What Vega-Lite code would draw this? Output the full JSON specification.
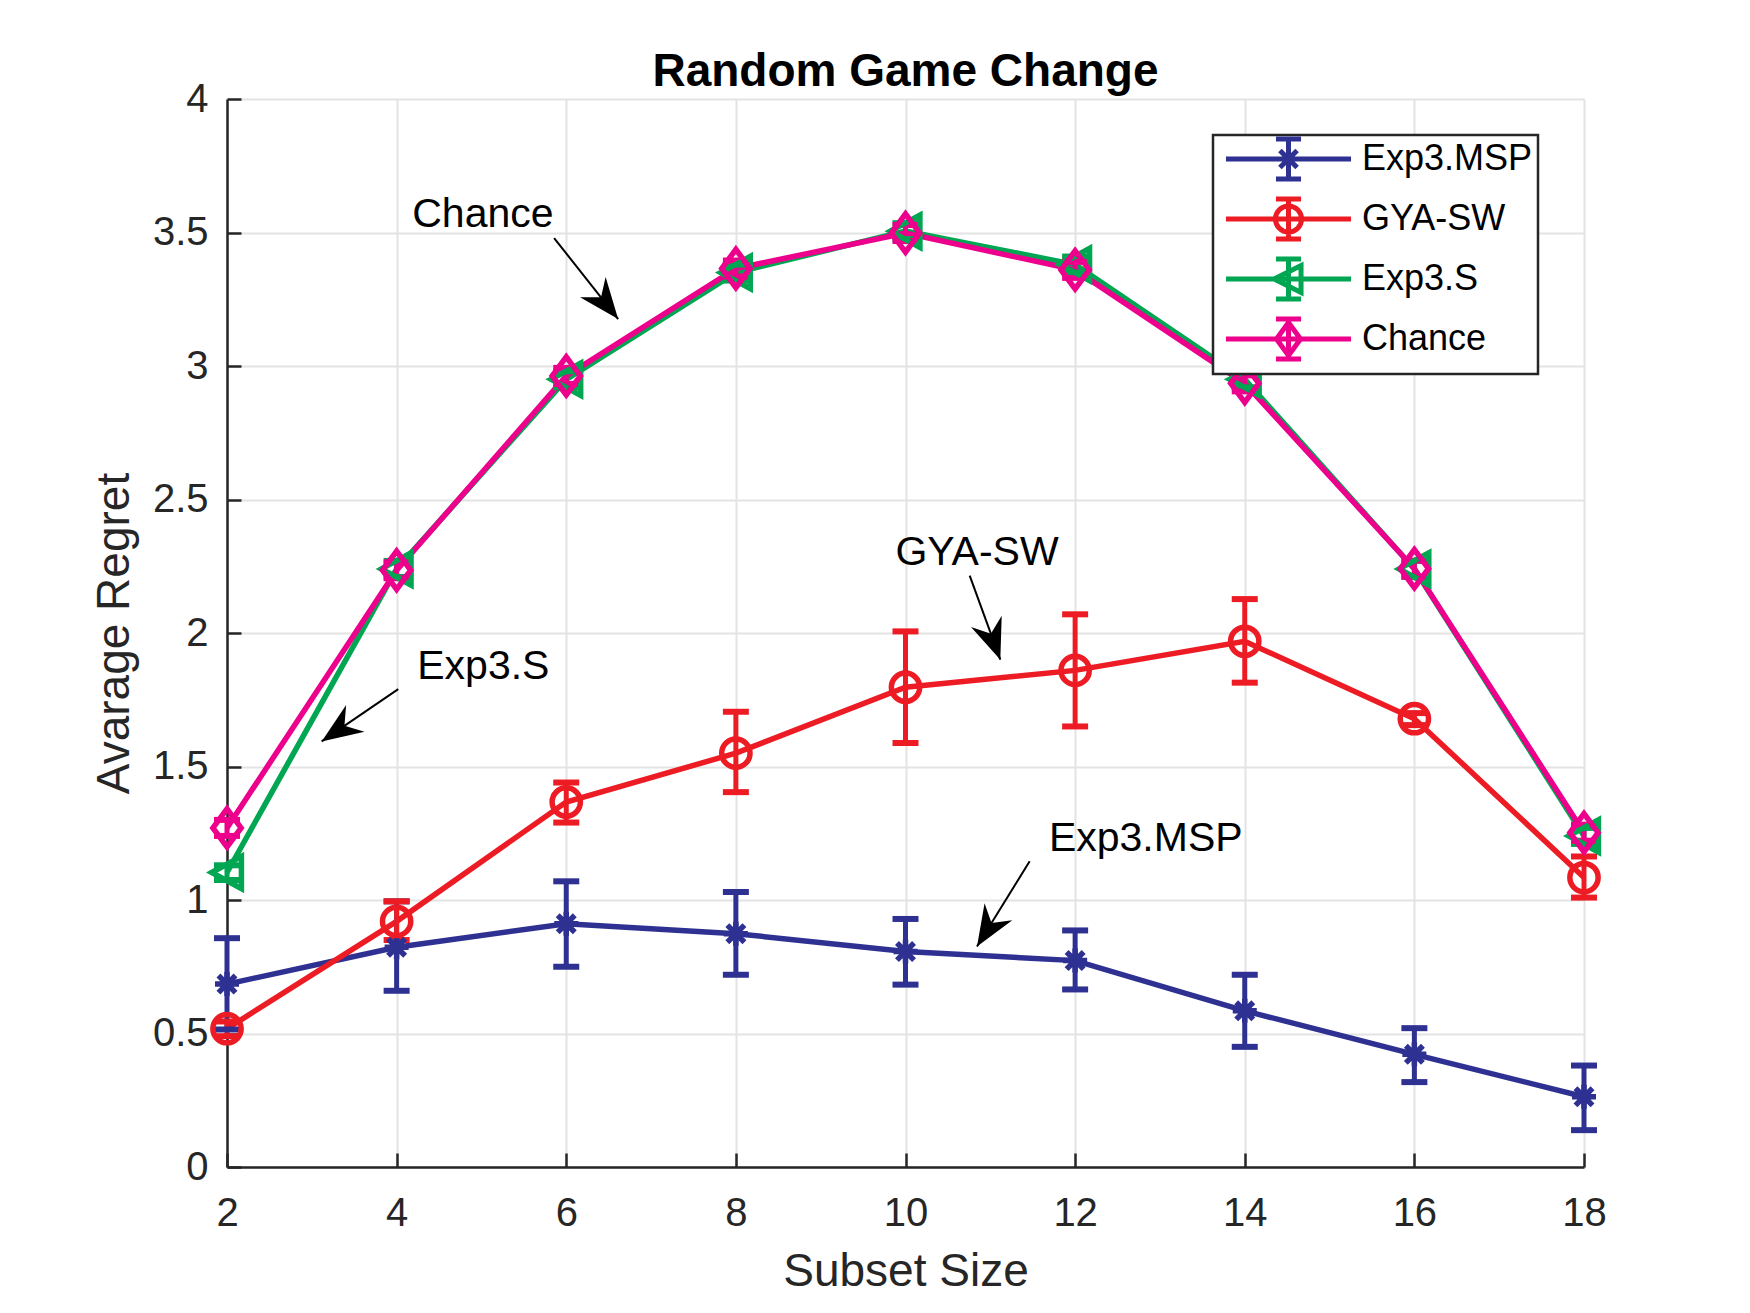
{
  "$schema": "https://vega.github.io/schema/vega-lite/v6.json",
  "autosize": {"type": "none"},
  "padding": {"left": 227, "top": 99, "right": 166, "bottom": 146},
  "width": 1357,
  "height": 1068,
  "background": "white",
  "title": {
    "text": "Random Game Change",
    "font": "Liberation Sans",
    "fontSize": 46,
    "fontWeight": "bold",
    "color": "black",
    "anchor": "middle",
    "frame": "group",
    "baseline": "alphabetic",
    "offset": -53
  },
  "datasets": {
    "series": [
      {"series": "Exp3.MSP", "x": 2, "y": 0.685, "lo": 0.515, "hi": 0.857},
      {"series": "Exp3.MSP", "x": 4, "y": 0.823, "lo": 0.66, "hi": 0.995},
      {"series": "Exp3.MSP", "x": 6, "y": 0.911, "lo": 0.75, "hi": 1.07},
      {"series": "Exp3.MSP", "x": 8, "y": 0.874, "lo": 0.72, "hi": 1.03},
      {"series": "Exp3.MSP", "x": 10, "y": 0.807, "lo": 0.683, "hi": 0.929},
      {"series": "Exp3.MSP", "x": 12, "y": 0.773, "lo": 0.665, "hi": 0.886},
      {"series": "Exp3.MSP", "x": 14, "y": 0.585, "lo": 0.45, "hi": 0.72},
      {"series": "Exp3.MSP", "x": 16, "y": 0.422, "lo": 0.318, "hi": 0.52},
      {"series": "Exp3.MSP", "x": 18, "y": 0.263, "lo": 0.138, "hi": 0.38},
      {"series": "GYA-SW", "x": 2, "y": 0.518, "lo": 0.49, "hi": 0.545},
      {"series": "GYA-SW", "x": 4, "y": 0.92, "lo": 0.85, "hi": 0.995},
      {"series": "GYA-SW", "x": 6, "y": 1.367, "lo": 1.29, "hi": 1.44},
      {"series": "GYA-SW", "x": 8, "y": 1.55, "lo": 1.404, "hi": 1.705},
      {"series": "GYA-SW", "x": 10, "y": 1.797, "lo": 1.588, "hi": 2.006},
      {"series": "GYA-SW", "x": 12, "y": 1.86, "lo": 1.65, "hi": 2.07},
      {"series": "GYA-SW", "x": 14, "y": 1.969, "lo": 1.814, "hi": 2.127},
      {"series": "GYA-SW", "x": 16, "y": 1.679, "lo": 1.655, "hi": 1.7},
      {"series": "GYA-SW", "x": 18, "y": 1.084, "lo": 1.009, "hi": 1.163},
      {"series": "Exp3.S", "x": 2, "y": 1.103, "lo": 1.075, "hi": 1.13},
      {"series": "Exp3.S", "x": 4, "y": 2.24, "lo": 2.21, "hi": 2.27},
      {"series": "Exp3.S", "x": 6, "y": 2.95, "lo": 2.92, "hi": 2.98},
      {"series": "Exp3.S", "x": 8, "y": 3.35, "lo": 3.32, "hi": 3.38},
      {"series": "Exp3.S", "x": 10, "y": 3.505, "lo": 3.475, "hi": 3.535},
      {"series": "Exp3.S", "x": 12, "y": 3.38, "lo": 3.35, "hi": 3.41},
      {"series": "Exp3.S", "x": 14, "y": 2.95, "lo": 2.92, "hi": 2.98},
      {"series": "Exp3.S", "x": 16, "y": 2.24, "lo": 2.21, "hi": 2.27},
      {"series": "Exp3.S", "x": 18, "y": 1.24, "lo": 1.21, "hi": 1.27},
      {"series": "Chance", "x": 2, "y": 1.27, "lo": 1.24, "hi": 1.3},
      {"series": "Chance", "x": 4, "y": 2.235, "lo": 2.205, "hi": 2.265},
      {"series": "Chance", "x": 6, "y": 2.963, "lo": 2.933, "hi": 2.993},
      {"series": "Chance", "x": 8, "y": 3.365, "lo": 3.335, "hi": 3.395},
      {"series": "Chance", "x": 10, "y": 3.498, "lo": 3.468, "hi": 3.528},
      {"series": "Chance", "x": 12, "y": 3.36, "lo": 3.33, "hi": 3.39},
      {"series": "Chance", "x": 14, "y": 2.935, "lo": 2.905, "hi": 2.965},
      {"series": "Chance", "x": 16, "y": 2.241, "lo": 2.211, "hi": 2.271},
      {"series": "Chance", "x": 18, "y": 1.252, "lo": 1.222, "hi": 1.282}
    ],
    "notes": [
      {"label": "Chance", "tx": 4.184, "ty": 3.519, "x1": 5.857, "y1": 3.479, "x2": 6.612, "y2": 3.176},
      {"label": "GYA-SW", "tx": 9.881, "ty": 2.256, "x1": 10.757, "y1": 2.215, "x2": 11.118, "y2": 1.9},
      {"label": "Exp3.S", "tx": 4.243, "ty": 1.829, "x1": 4.019, "y1": 1.79, "x2": 3.116, "y2": 1.594},
      {"label": "Exp3.MSP", "tx": 11.691, "ty": 1.182, "x1": 11.464, "y1": 1.145, "x2": 10.843, "y2": 0.826}
    ]
  },
  "layer": [
    {
      "data": {"name": "series"},
      "mark": {"type": "line", "strokeWidth": 5.5},
      "encoding": {
        "x": {
          "field": "x", "type": "quantitative",
          "scale": {"domain": [2, 18], "nice": false, "zero": false},
          "axis": {
            "title": "Subset Size",
            "values": [2, 4, 6, 8, 10, 12, 14, 16, 18],
            "format": "d",
            "labelPadding": 40,
            "titlePadding": 16,
            "labelFlush": false,
            "labelOverlap": false
          }
        },
        "y": {
          "field": "y", "type": "quantitative",
          "scale": {"domain": [0, 4], "nice": false, "zero": false},
          "axis": {
            "title": "Avarage Regret",
            "values": [0, 0.5, 1, 1.5, 2, 2.5, 3, 3.5, 4],
            "format": "~g",
            "labelPadding": 33,
            "titlePadding": 14,
            "labelFlush": false,
            "labelOverlap": false
          }
        },
        "stroke": {
          "field": "series", "type": "nominal", "legend": null,
          "scale": {
            "domain": ["Chance", "Exp3.S", "GYA-SW", "Exp3.MSP"],
            "range": ["#EC008C", "#00A651", "#ED1C24", "#2E3192"]
          }
        },
        "order": {"field": "x", "type": "quantitative"}
      }
    },
    {
      "data": {"name": "series"},
      "mark": {"type": "rule", "strokeWidth": 5},
      "encoding": {
        "x": {"field": "x", "type": "quantitative", "scale": {"domain": [2, 18]}},
        "y": {"field": "lo", "type": "quantitative", "scale": {"domain": [0, 4]}},
        "y2": {"field": "hi"},
        "stroke": {"field": "series", "type": "nominal", "legend": null}
      }
    },
    {
      "data": {"name": "series"},
      "mark": {"type": "tick", "orient": "horizontal", "size": 26, "thickness": 6, "opacity": 1},
      "encoding": {
        "x": {"field": "x", "type": "quantitative", "scale": {"domain": [2, 18]}},
        "y": {"field": "lo", "type": "quantitative", "scale": {"domain": [0, 4]}},
        "fill": {
          "field": "series", "type": "nominal", "legend": null,
          "scale": {
            "domain": ["Chance", "Exp3.S", "GYA-SW", "Exp3.MSP"],
            "range": ["#EC008C", "#00A651", "#ED1C24", "#2E3192"]
          }
        }
      }
    },
    {
      "data": {"name": "series"},
      "mark": {"type": "tick", "orient": "horizontal", "size": 26, "thickness": 6, "opacity": 1},
      "encoding": {
        "x": {"field": "x", "type": "quantitative", "scale": {"domain": [2, 18]}},
        "y": {"field": "hi", "type": "quantitative", "scale": {"domain": [0, 4]}},
        "fill": {"field": "series", "type": "nominal", "legend": null}
      }
    },
    {
      "data": {"name": "series"},
      "transform": [{"filter": "datum.series == 'Exp3.MSP'"}],
      "mark": {
        "type": "point", "filled": false, "opacity": 1, "strokeWidth": 5.5, "size": 900,
        "shape": "M0,-0.8V0.8M-0.8,0H0.8M-0.57,-0.57L0.57,0.57M-0.57,0.57L0.57,-0.57"
      },
      "encoding": {
        "x": {"field": "x", "type": "quantitative", "scale": {"domain": [2, 18]}},
        "y": {"field": "y", "type": "quantitative", "scale": {"domain": [0, 4]}},
        "stroke": {"field": "series", "type": "nominal", "legend": null}
      }
    },
    {
      "data": {"name": "series"},
      "transform": [{"filter": "datum.series == 'GYA-SW'"}],
      "mark": {"type": "point", "filled": false, "opacity": 1, "strokeWidth": 5.5, "size": 800, "shape": "circle"},
      "encoding": {
        "x": {"field": "x", "type": "quantitative", "scale": {"domain": [2, 18]}},
        "y": {"field": "y", "type": "quantitative", "scale": {"domain": [0, 4]}},
        "stroke": {"field": "series", "type": "nominal", "legend": null}
      }
    },
    {
      "data": {"name": "series"},
      "transform": [{"filter": "datum.series == 'Exp3.S'"}],
      "mark": {"type": "point", "filled": false, "opacity": 1, "strokeWidth": 5.5, "size": 1150, "shape": "M-0.9,0L0.85,-0.95L0.85,0.95Z"},
      "encoding": {
        "x": {"field": "x", "type": "quantitative", "scale": {"domain": [2, 18]}},
        "y": {"field": "y", "type": "quantitative", "scale": {"domain": [0, 4]}},
        "stroke": {"field": "series", "type": "nominal", "legend": null}
      }
    },
    {
      "data": {"name": "series"},
      "transform": [{"filter": "datum.series == 'Chance'"}],
      "mark": {"type": "point", "filled": false, "opacity": 1, "strokeWidth": 5.5, "size": 1100, "shape": "M0,-1.15L0.85,0L0,1.15L-0.85,0Z"},
      "encoding": {
        "x": {"field": "x", "type": "quantitative", "scale": {"domain": [2, 18]}},
        "y": {"field": "y", "type": "quantitative", "scale": {"domain": [0, 4]}},
        "stroke": {"field": "series", "type": "nominal", "legend": null}
      }
    },
    {
      "data": {"name": "series"},
      "transform": [{"filter": "datum.x < 0"}],
      "mark": {"type": "point", "filled": false, "opacity": 1, "strokeWidth": 5},
      "encoding": {
        "x": {"field": "x", "type": "quantitative", "scale": {"domain": [2, 18]}},
        "y": {"field": "y", "type": "quantitative", "scale": {"domain": [0, 4]}},
        "color": {
          "field": "series", "type": "nominal",
          "scale": {
            "domain": ["Exp3.MSP", "GYA-SW", "Exp3.S", "Chance"],
            "range": ["#2E3192", "#ED1C24", "#00A651", "#EC008C"]
          },
          "legend": {
            "title": null,
            "orient": "none",
            "legendX": 986,
            "legendY": 36,
            "padding": 5,
            "fillColor": "white",
            "strokeColor": "#262626",
            "rowPadding": 0,
            "symbolSize": 1089,
            "symbolStrokeWidth": 5,
            "symbolOffset": 51.5,
            "symbolOpacity": 1,
            "symbolFillColor": "transparent",
            "labelOffset": 54.5,
            "labelFont": "Liberation Sans",
            "labelFontSize": 36,
            "labelColor": "black",
            "labelLimit": 400,
            "labelExpr": "datum.label + ' '"
          }
        },
        "shape": {
          "field": "series", "type": "nominal",
          "scale": {
            "domain": ["Exp3.MSP", "GYA-SW", "Exp3.S", "Chance"],
            "range": [
              "M-3.79,0H3.79M0,-1.21V1.21M-0.76,-1.21H0.76M-0.76,1.21H0.76M0,-0.73V0.73M-0.73,0H0.73M-0.52,-0.52L0.52,0.52M-0.52,0.52L0.52,-0.52",
              "M-3.79,0H3.79M0,-1.21V1.21M-0.76,-1.21H0.76M-0.76,1.21H0.76M-0.79,0A0.79,0.79 0 1,1 0.79,0A0.79,0.79 0 1,1 -0.79,0Z",
              "M-3.79,0H3.79M0,-1.21V1.21M-0.76,-1.21H0.76M-0.76,1.21H0.76M-0.87,0L0.76,-0.82L0.76,0.82Z",
              "M-3.79,0H3.79M0,-1.21V1.21M-0.76,-1.21H0.76M-0.76,1.21H0.76M0,-1L0.73,0L0,1L-0.73,0Z"
            ]
          },
          "legend": {
            "title": null,
            "orient": "none",
            "legendX": 986,
            "legendY": 36
          }
        }
      }
    },
    {
      "data": {"name": "notes"},
      "mark": {"type": "rule", "strokeWidth": 2, "color": "black"},
      "encoding": {
        "x": {"field": "x1", "type": "quantitative", "scale": {"domain": [2, 18]}},
        "y": {"field": "y1", "type": "quantitative", "scale": {"domain": [0, 4]}},
        "x2": {"field": "x2"},
        "y2": {"field": "y2"}
      }
    },
    {
      "data": {"name": "notes"},
      "transform": [
        {"calculate": "atan2((datum.x2 - datum.x1) * 84.81, (datum.y2 - datum.y1) * 267) * 180 / PI", "as": "ang"}
      ],
      "mark": {
        "type": "point", "filled": true, "opacity": 1, "color": "black", "strokeWidth": 0, "size": 2304,
        "shape": "M0,0L0.68,1.7L0,1.15L-0.68,1.7Z"
      },
      "encoding": {
        "x": {"field": "x2", "type": "quantitative", "scale": {"domain": [2, 18]}},
        "y": {"field": "y2", "type": "quantitative", "scale": {"domain": [0, 4]}},
        "angle": {"field": "ang", "type": "quantitative", "scale": null}
      }
    },
    {
      "data": {"name": "notes"},
      "mark": {
        "type": "text", "align": "left", "baseline": "alphabetic",
        "font": "Liberation Sans", "fontSize": 41, "color": "black"
      },
      "encoding": {
        "x": {"field": "tx", "type": "quantitative", "scale": {"domain": [2, 18]}},
        "y": {"field": "ty", "type": "quantitative", "scale": {"domain": [0, 4]}},
        "text": {"field": "label"}
      }
    }
  ],
  "config": {
    "view": {"stroke": null},
    "legend": {"strokeWidth": 2.5},
    "axis": {
      "domainColor": "#262626",
      "domainWidth": 2.5,
      "tickColor": "#262626",
      "tickWidth": 2.5,
      "tickSize": -14,
      "gridColor": "#e3e3e3",
      "gridWidth": 2,
      "gridOpacity": 1,
      "labelFont": "Liberation Sans",
      "labelFontSize": 40,
      "labelColor": "#262626",
      "titleFont": "Liberation Sans",
      "titleFontSize": 46,
      "titleFontWeight": "normal",
      "titleColor": "#262626"
    }
  }
}
